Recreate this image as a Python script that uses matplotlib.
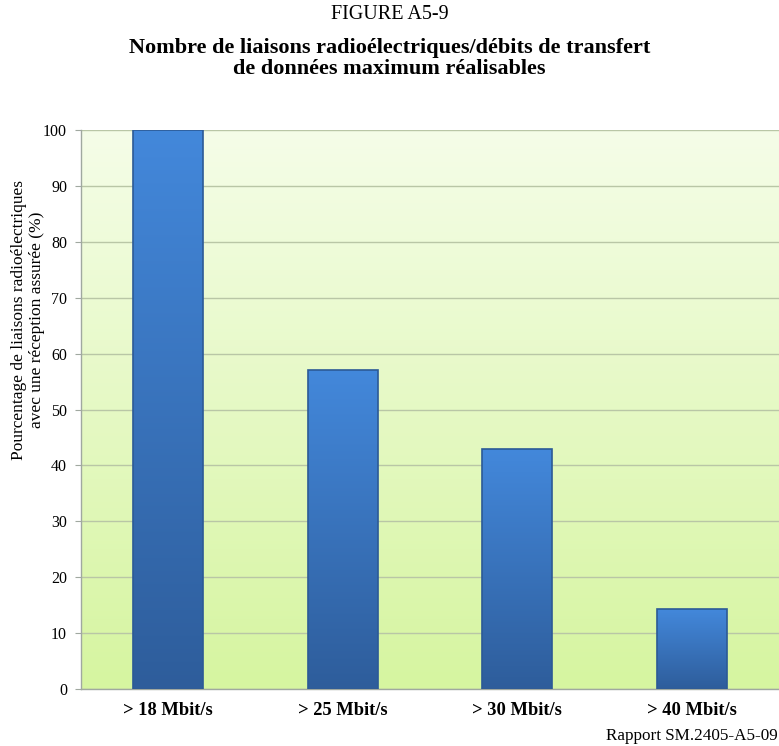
import numpy as np
import matplotlib
matplotlib.use("Agg")
import matplotlib.pyplot as plt
from matplotlib.colors import LinearSegmentedColormap

plt.rcParams["font.family"] = ["Liberation Serif", "DejaVu Serif"]

categories = ["> 18 Mbit/s", "> 25 Mbit/s", "> 30 Mbit/s", "> 40 Mbit/s"]
shares = [100.0, 57.1, 42.9, 14.3]
yticks = [0, 10, 20, 30, 40, 50, 60, 70, 80, 90, 100]

fig = plt.figure(figsize=(7.79, 7.46), dpi=100)
ax = fig.add_axes([0.104, 0.0764, 0.896, 0.7493])

# pale yellow to light green wash behind the plot
bg = LinearSegmentedColormap.from_list("bg", ["#d6f5a0", "#f5fde8"])
grad = np.linspace(0, 1, 256).reshape(-1, 1)
ax.imshow(grad, cmap=bg, origin="lower", aspect="auto",
          extent=[0, 1, 0, 1], transform=ax.transAxes, zorder=0)

x = np.arange(len(categories))
bars = ax.bar(x, shares, width=0.4, color="none", edgecolor="#2c5a96",
              linewidth=1.2, zorder=3)

# blue bar fill, lighter at the top
bar_cmap = LinearSegmentedColormap.from_list("bar", ["#2e5d9b", "#4388db"])
for b in bars:
    x0, w, h = b.get_x(), b.get_width(), b.get_height()
    im = ax.imshow(grad, cmap=bar_cmap, origin="lower", aspect="auto",
                   extent=[x0, x0 + w, 0, h], zorder=2)
    im.set_clip_path(b)

ax.set_xlim(-0.5, len(categories) - 0.5)
ax.set_ylim(0, 100)
ax.set_yticks(yticks)
ax.set_xticks(x)
ax.set_xticklabels(categories, fontsize=13.3, fontweight="bold")
ax.tick_params(axis="y", labelsize=11.5, length=4, color="#a0a8a0", pad=6)
ax.tick_params(axis="x", length=0, pad=9)
ax.grid(axis="y", color="#b9c6a6", lw=1.0, zorder=1)
ax.set_axisbelow(True)

for s in ("top", "right"):
    ax.spines[s].set_visible(False)
for s in ("left", "bottom"):
    ax.spines[s].set_color("#a0a8a0")
    ax.spines[s].set_linewidth(1.0)

# y label sits above the axes centre, as in the report layout
fig.text(0.036, 1 - 320 / 746,
         "Pourcentage de liaisons radioélectriques\navec une réception assurée (%)",
         rotation=90, ha="center", va="center", fontsize=12.5, linespacing=1.15)

fig.text(0.5, 0.981, "FIGURE A5-9", ha="center", va="center", fontsize=14.5)
fig.text(0.5, 0.921, "Nombre de liaisons radioélectriques/débits de transfert\n"
         "de données maximum réalisables", ha="center", va="center",
         fontsize=16, fontweight="bold", linespacing=1.06)
fig.text(0.999, 0.013, "Rapport SM.2405-A5-09", ha="right", va="center",
         fontsize=12.3)

fig.savefig("out.png", dpi=100)
